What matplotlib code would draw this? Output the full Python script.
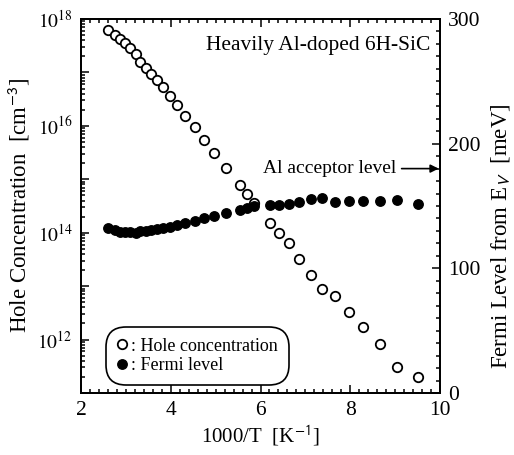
import matplotlib
matplotlib.use("Agg")
import matplotlib.pyplot as plt
from matplotlib.ticker import FixedLocator, FixedFormatter, LogLocator, NullFormatter, MultipleLocator
import numpy as np

plt.rcParams['font.family'] = ['Liberation Serif', 'DejaVu Serif']
plt.rcParams['mathtext.fontset'] = 'stix'

# Data
inv_T = [2.61, 2.76, 2.87, 2.98, 3.09, 3.22, 3.31, 3.44, 3.55, 3.69, 3.82,
         3.98, 4.14, 4.32, 4.53, 4.74, 4.96, 5.24, 5.54, 5.69, 5.86, 6.21,
         6.42, 6.64, 6.86, 7.12, 7.38, 7.66, 7.98, 8.29, 8.66, 9.05, 9.51]
log_hole = [17.79, 17.70, 17.62, 17.55, 17.45, 17.35, 17.20, 17.08, 16.97,
            16.86, 16.72, 16.56, 16.39, 16.18, 15.97, 15.74, 15.49, 15.21,
            14.89, 14.72, 14.56, 14.19, 13.99, 13.80, 13.50, 13.20, 12.94,
            12.82, 12.52, 12.23, 11.92, 11.49, 11.29]
fermi_meV = [132.0, 130.5, 129.5, 128.8, 129.2, 128.6, 129.8, 130.2, 130.7,
             131.5, 132.6, 133.4, 134.8, 136.1, 138.0, 140.1, 142.0, 144.1,
             146.8, 148.6, 149.6, 150.6, 151.2, 151.4, 153.6, 156.0, 156.8,
             153.2, 154.0, 154.0, 154.0, 154.6, 152.0]
hole_conc = [10 ** v for v in log_hole]
acceptor_level = 180
decades = [11, 12, 13, 14, 15, 16, 17, 18]
decade_labels = ['', r'$10^{12}$', '', r'$10^{14}$', '', r'$10^{16}$', '', r'$10^{18}$']

fig = plt.figure(figsize=(5.14, 4.55), dpi=100)
ax = fig.add_axes([0.1576, 0.1363, 0.6985, 0.8219])
ax2 = ax.twinx()

ax.set_yscale('log')
ax.set_xlim(2, 10)
ax.set_ylim(1e11, 1e18)
ax2.set_ylim(0, 300)

ms = 6.8
l1, = ax.plot(inv_T, hole_conc, 'o', mfc='white', mec='black', mew=1.3,
              ms=ms, ls='none', label=': Hole concentration', zorder=3)
l2, = ax2.plot(inv_T, fermi_meV, 'o', mfc='black', mec='black', mew=1.0,
               ms=ms, ls='none', label=': Fermi level', zorder=2)

# ticks
ax.yaxis.set_major_locator(FixedLocator([10.0 ** d for d in decades]))
ax.yaxis.set_major_formatter(FixedFormatter(decade_labels))
ax.yaxis.set_minor_locator(LogLocator(base=10, subs=np.arange(2, 10), numticks=20))
ax.yaxis.set_minor_formatter(NullFormatter())
ax.xaxis.set_major_locator(MultipleLocator(2))
ax.xaxis.set_minor_locator(MultipleLocator(0.2))
ax2.yaxis.set_major_locator(MultipleLocator(100))
ax2.yaxis.set_minor_locator(MultipleLocator(10))

ax.tick_params(which='both', direction='in', top=True, right=False, width=1.1)
ax.tick_params(axis='x', labelsize=15.5)
ax.tick_params(axis='y', labelsize=14)
ax.tick_params(which='major', length=6, pad=6)
ax.tick_params(which='minor', length=3)
ax2.tick_params(which='both', direction='in', labelsize=15.5, width=1.1)
ax2.tick_params(which='major', length=6, pad=6)
ax2.tick_params(which='minor', length=3)

for a in (ax, ax2):
    for s in a.spines.values():
        s.set_linewidth(1.3)

ax.set_xlabel(r'1000/T  [K$^{\mathsf{-1}}$]', fontsize=15, labelpad=2)
ax.set_ylabel(r'Hole Concentration  [cm$^{\mathsf{-3}}$]', fontsize=16.5, labelpad=4)
ax2.set_ylabel(r'Fermi Level from E$_{\mathsf{V}}$  [meV]', fontsize=16.5)
ax2.yaxis.set_label_coords(1.135, 0.42)

ax.text(0.972, 0.93, 'Heavily Al-doped 6H-SiC', transform=ax.transAxes,
        ha='right', va='center', fontsize=15.5)

ax2.annotate('Al acceptor level', xy=(9.97, acceptor_level), xytext=(9.02, acceptor_level),
             ha='right', va='center', fontsize=14,
             arrowprops=dict(arrowstyle='-|>', color='black', lw=1.2,
                             shrinkA=2, shrinkB=0, mutation_scale=12))

leg = ax2.legend(handles=[l1, l2], loc='lower left', bbox_to_anchor=(0.085, 0.035),
                 borderaxespad=0, fontsize=13, handlelength=0.6, handletextpad=0.2,
                 labelspacing=0.15, borderpad=0.3, frameon=True, fancybox=True,
                 edgecolor='black', framealpha=1)
leg.get_frame().set_linewidth(1.2)
leg.get_frame().set_boxstyle('round,pad=0.3,rounding_size=1.1')

fig.savefig('out.png', dpi=100)
